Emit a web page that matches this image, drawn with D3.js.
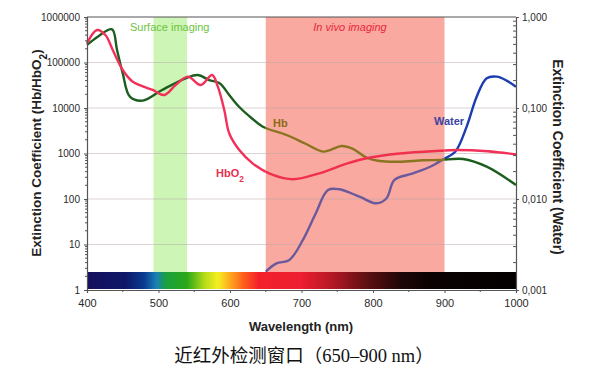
<!DOCTYPE html>
<html><head><meta charset="utf-8">
<script src="https://cdn.jsdelivr.net/npm/d3@7"></script>
<style>
body{margin:0;background:#fff;}
svg{display:block;}
text{font-family:"Liberation Sans",Arial,sans-serif;}
</style></head>
<body><svg id="c" width="609" height="368"></svg>
<script>
// ---- data ----
const hbWl  = [400,415,435,442,450,460,478,505,538,555,571,585,600,613,630,646,679,705,730,740,756,772,791,809,837,870,894,926,959,1000];
const hbVal = [243000,370000,537000,188000,57500,17700,14500,24900,45000,53000,41000,35400,18400,10500,6030,3880,2550,1660,1100,1190,1460,1260,810,684,660,710,720,757,513,203];

const hbo2Wl  = [400,414,426,436,450,464,492,508,524,541,559,575,583,592,599,613,632,660,688,725,763,791,837,894,917,960,1000];
const hbo2Val = [263000,518000,398000,188000,68400,37800,24900,19300,32000,49000,32000,53000,29400,9000,2750,1190,600,337,271,367,600,785,1000,1150,1190,1120,955];

const waterWl  = [650,665,683,702,720,737,753,781,805,819,830,856,880,898,915,931,945,959,973,987,1000];
const waterVal = [0.00159,0.00196,0.00214,0.00355,0.00697,0.01256,0.0128,0.0106,0.00897,0.0102,0.0162,0.0191,0.0226,0.0272,0.033,0.0624,0.133,0.212,0.221,0.200,0.171];

const xTicks = [400,500,600,700,800,900,1000];
const yLeftTicks = [1,10,100,1000,10000,100000,1000000];
const yRightTicks = [0.001,0.01,0.1,1];
const yRightLabels = ["0,001","0,010","0,100","1,000"];

const spectrumStops = [
 [400,"#16105e"],[455,"#0e1868"],[480,"#0a3c90"],[497,"#1a80b8"],[510,"#1aa040"],[540,"#2aa818"],[565,"#b8dc18"],[583,"#f4f020"],[600,"#ffa81e"],[620,"#ff5a1e"],[640,"#f4202c"],[700,"#ec1e30"],[745,"#b01824"],[790,"#601012"],[840,"#1e0606"],[880,"#0a0202"],[1000,"#040000"]
];

// ---- layout ----
const svg = d3.select("#c");
const L=87, R=516, T=17, B=290;
const x = d3.scaleLinear().domain([400,1000]).range([L,R]);
const yL = d3.scaleLog().domain([1,1000000]).range([B,T]);
const yR = d3.scaleLog().domain([0.001,1]).range([B,T]);
const barTop = 272;
const vivo = [650,900], surf = [493,540];

const defs = svg.append("defs");
defs.append("clipPath").attr("id","inBand").append("rect")
  .attr("x",x(vivo[0])).attr("width",x(vivo[1])-x(vivo[0])).attr("y",0).attr("height",368);
const outClip = defs.append("clipPath").attr("id","outBand");
outClip.append("rect").attr("x",0).attr("width",x(vivo[0])).attr("y",0).attr("height",368);
outClip.append("rect").attr("x",x(vivo[1])).attr("width",609-x(vivo[1])).attr("y",0).attr("height",368);

// bands
svg.append("rect").attr("x",x(surf[0])).attr("width",x(surf[1])-x(surf[0]))
  .attr("y",T).attr("height",barTop-T).attr("fill","#cdf5b6");
svg.append("rect").attr("x",x(vivo[0])).attr("width",x(vivo[1])-x(vivo[0]))
  .attr("y",T).attr("height",barTop-T).attr("fill","#f9a99f");

// gridlines
svg.append("g").selectAll("line").data(yLeftTicks.slice(1,6)).join("line")
  .attr("x1",L).attr("x2",R).attr("y1",d=>yL(d)).attr("y2",d=>yL(d))
  .attr("stroke","#b8a8a8").attr("stroke-opacity",0.5).attr("stroke-width",1);

// lines
const lineL = (wl,vals)=> d3.line().curve(d3.curveCatmullRom.alpha(0.5))
  .x((d,i)=>x(wl[i])).y(d=>yL(d))(vals);
const lineR = (wl,vals)=> d3.line().curve(d3.curveCatmullRom.alpha(0.5))
  .x((d,i)=>x(wl[i])).y(d=>yR(d))(vals);

const series = [
  {d:lineR(waterWl,waterVal), out:"#1c3cb0", inn:"#6a5a9c"},
  {d:lineL(hbWl,hbVal), out:"#1b5e1e", inn:"#8a7420"},
  {d:lineL(hbo2Wl,hbo2Val), out:"#f2305a", inn:"#f0304e"}
];
series.forEach(s=>{
  svg.append("path").attr("d",s.d).attr("fill","none").attr("clip-path","url(#outBand)")
    .attr("stroke",s.out).attr("stroke-width",2.4);
  svg.append("path").attr("d",s.d).attr("fill","none").attr("clip-path","url(#inBand)")
    .attr("stroke",s.inn).attr("stroke-width",2.4);
});

// spectrum bar
const grad = defs.append("linearGradient").attr("id","spec")
  .attr("gradientUnits","userSpaceOnUse").attr("x1",L).attr("x2",R).attr("y1",0).attr("y2",0);
grad.selectAll("stop").data(spectrumStops).join("stop")
  .attr("offset",d=>(d[0]-400)/600).attr("stop-color",d=>d[1]);
svg.append("rect").attr("x",L).attr("width",R-L).attr("y",barTop).attr("height",B-barTop-1)
  .attr("fill","url(#spec)");

// frame
svg.append("line").attr("x1",L).attr("x2",R).attr("y1",T).attr("y2",T).attr("stroke","#555").attr("stroke-width",1.2);

// left axis
const axL = d3.axisLeft(yL).tickValues(yLeftTicks).tickFormat(d3.format("d")).tickSize(3).tickPadding(4);
const gL = svg.append("g").attr("transform",`translate(${L},0)`).call(axL);
const minorL=[];
for(let e=0;e<6;e++) for(let k=2;k<10;k++) minorL.push(k*Math.pow(10,e));
gL.append("g").selectAll("line").data(minorL).join("line")
  .attr("x1",-2).attr("x2",0).attr("y1",d=>yL(d)).attr("y2",d=>yL(d)).attr("stroke","#555");

// right axis
const axR = d3.axisRight(yR).tickValues(yRightTicks).tickFormat((d,i)=>yRightLabels[i]).tickSize(3).tickPadding(3);
const gR = svg.append("g").attr("transform",`translate(${R},0)`).call(axR);
const minorR=[];
for(let e=-3;e<0;e++) for(let k=2;k<10;k++) minorR.push(k*Math.pow(10,e));
gR.append("g").selectAll("line").data(minorR).join("line")
  .attr("x1",-3).attr("x2",0).attr("y1",d=>yR(d)).attr("y2",d=>yR(d)).attr("stroke","#555");

// bottom axis
const axB = d3.axisBottom(x).tickValues(xTicks).tickFormat(d3.format("d")).tickSize(3).tickPadding(6);
const gB = svg.append("g").attr("transform",`translate(0,${B})`).call(axB);
gB.append("g").selectAll("line").data([450,550,650,750,850,950]).join("line")
  .attr("x1",d=>x(d)).attr("x2",d=>x(d)).attr("y1",0).attr("y2",2).attr("stroke","#555");

[gL,gR,gB].forEach(g=>{
  g.select(".domain").attr("stroke","#555").attr("stroke-width",1.2);
  g.selectAll(".tick line").attr("stroke","#555");
  g.selectAll(".tick text").attr("fill","#2a2a2a").style("font-size","10px").style("font-family","'Liberation Sans',Arial,sans-serif");
});
gB.selectAll(".tick text").style("font-size","11px");

// titles
svg.append("text").attr("transform",`translate(41,153) rotate(-90)`)
  .attr("text-anchor","middle").style("font-size","13.5px").style("font-weight","bold").attr("fill","#222")
  .html('Extinction Coefficient (Hb/HbO<tspan baseline-shift="sub" font-size="10px">2</tspan>)');
svg.append("text").attr("transform",`translate(553,157) rotate(90)`)
  .attr("text-anchor","middle").style("font-size","14px").style("font-weight","bold").attr("fill","#222")
  .text("Extinction Coefficient (Water)");
svg.append("text").attr("x",301).attr("y",331).attr("text-anchor","middle")
  .style("font-size","13px").style("font-weight","bold").attr("fill","#222").text("Wavelength (nm)");
svg.append("text").attr("x",304).attr("y",362).attr("text-anchor","middle")
  .style("font-size","18.5px").style("font-family","'Liberation Serif','Noto Sans CJK SC',serif").attr("fill","#111")
  .text("近红外检测窗口（650–900 nm）");

// annotations
svg.append("text").attr("x",130).attr("y",31).style("font-size","11px").attr("fill","#6cc43c").text("Surface imaging");
svg.append("text").attr("x",350).attr("y",31).attr("text-anchor","middle").style("font-size","11px")
  .style("font-style","italic").attr("fill","#e8283c").text("In vivo imaging");
svg.append("text").attr("x",273).attr("y",127).style("font-size","11px").style("font-weight","bold").attr("fill","#8a6a12").text("Hb");
svg.append("text").attr("x",216).attr("y",177).style("font-size","11px").style("font-weight","bold").attr("fill","#e83050")
  .html('HbO<tspan baseline-shift="sub" font-size="8.5px">2</tspan>');
svg.append("text").attr("x",434).attr("y",125).style("font-size","11px").style("font-weight","bold").attr("fill","#3a44a4").text("Water");
</script></body></html>
